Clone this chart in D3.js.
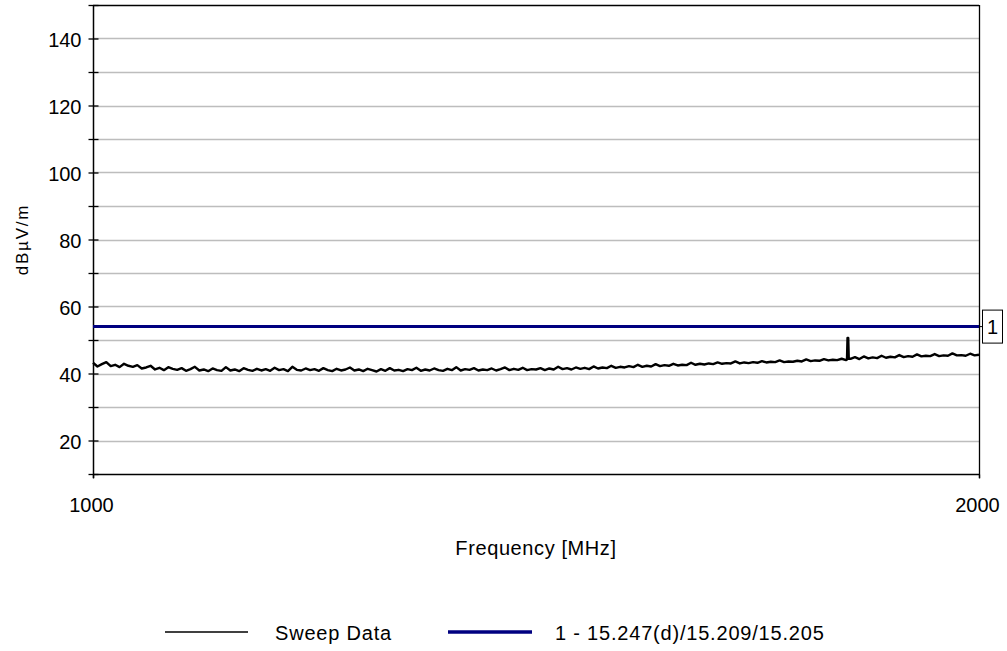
<!DOCTYPE html>
<html>
<head>
<meta charset="utf-8">
<script src="https://cdn.jsdelivr.net/npm/d3@7"></script>
<style>
  html, body { margin: 0; padding: 0; background: #fff; }
  svg text { font-family: "Liberation Sans", Arial, sans-serif; fill: #000; }
</style>
</head>
<body>
<svg id="chart" width="1007" height="651"></svg>
<script>
// ---------------- data ----------------
const freqStart = 1000, freqStep = 5;          // MHz, sweep grid
const sweepValues = [
  43.2,42.1,42.8,43.4,42.2,42.6,41.9,42.9,42.3,42.0,
  42.5,41.5,41.8,42.3,41.2,41.7,41.0,41.9,41.4,41.1,
  41.6,40.8,41.3,42.0,40.9,41.2,40.7,41.5,41.0,40.8,
  41.9,40.9,41.2,40.7,41.6,41.1,40.8,41.4,40.9,41.3,
  40.8,41.7,41.0,41.3,40.7,42.0,41.1,40.9,41.5,41.0,
  41.3,40.8,41.6,41.0,40.7,41.4,40.9,41.2,41.8,40.9,
  41.2,40.7,41.4,41.0,40.6,41.3,40.8,41.6,40.9,41.1,
  40.7,41.3,41.0,41.7,40.8,41.2,40.9,41.5,41.0,40.8,
  41.4,41.0,41.9,40.9,41.3,41.1,41.6,40.9,41.2,41.0,
  41.5,40.9,41.3,41.8,41.0,41.4,41.1,41.7,41.0,41.3,
  41.2,41.6,41.0,41.5,41.2,42.0,41.3,41.6,41.2,41.8,
  41.4,41.7,41.3,42.1,41.5,41.8,41.6,42.3,41.7,42.0,
  41.8,42.2,41.9,42.6,42.0,42.3,42.1,42.8,42.2,42.5,
  42.3,42.9,42.4,42.6,42.5,43.2,42.6,42.9,42.7,43.0,
  42.8,43.3,42.9,43.1,43.0,43.6,43.0,43.3,43.1,43.4,
  43.2,43.7,43.3,43.5,43.4,43.9,43.4,43.6,43.5,43.8,
  43.6,44.2,43.7,43.9,43.8,44.3,43.9,44.1,44.0,44.4,
  44.0,44.4,44.9,44.3,45.1,44.5,44.8,44.6,45.3,44.7,
  45.0,44.8,45.5,44.9,45.2,45.0,45.7,45.1,45.3,45.2,
  45.8,45.2,45.4,45.3,46.0,45.4,45.5,45.3,45.9,45.4,
  45.6
];
const spikeFreqs  = [1851, 1851.6, 1852.4, 1853];
const spikeValues = [44.2, 50.6, 50.6, 44.4];

const limitFreqs  = [1000, 2000];
const limitValues = [54, 54];
const limitLabel  = "1";

const yTicksMajor = [20, 40, 60, 80, 100, 120, 140];
const xTickLabels = [1000, 2000];
const seriesNames = ["Sweep Data", "1 - 15.247(d)/15.209/15.205"];

// ---------------- layout ----------------
const svg = d3.select("#chart");
const pL = 93, pR = 979, pT = 5, pB = 474;

const x = d3.scaleLinear().domain([1000, 2000]).range([pL, pR]);
const y = d3.scaleLinear().domain([10, 150]).range([pB, pT]);

let sweep = sweepValues.map((v, i) => ({ f: freqStart + i * freqStep, v }));
spikeFreqs.forEach((f, i) => sweep.push({ f, v: spikeValues[i] }));
sweep.sort((a, b) => a.f - b.f);

// gridlines
svg.append("g")
  .selectAll("line")
  .data(d3.range(20, 150, 10))
  .join("line")
  .attr("x1", pL).attr("x2", pR)
  .attr("y1", d => Math.round(y(d)) + 0.5).attr("y2", d => Math.round(y(d)) + 0.5)
  .attr("stroke", "#bdbdbd").attr("stroke-width", 1.3);

// frame
svg.append("line").attr("x1", pL).attr("x2", pR).attr("y1", pT + 0.5).attr("y2", pT + 0.5)
  .attr("stroke", "#000").attr("stroke-width", 1.3);
svg.append("line").attr("x1", pR + 0.5).attr("x2", pR + 0.5).attr("y1", pT).attr("y2", pB + 4)
  .attr("stroke", "#000").attr("stroke-width", 1.3);

// y axis (ticks crossing the axis line)
const yAxis = d3.axisLeft(y)
  .tickValues(d3.range(10, 151, 10))
  .tickSize(0)
  .tickFormat(d => yTicksMajor.includes(d) ? d : "");
const gy = svg.append("g").attr("transform", `translate(${pL + 0.5},0)`).call(yAxis);
gy.select(".domain").remove();
gy.selectAll(".tick text")
  .attr("x", -12).attr("dy", "0.42em")
  .style("font-size", "20px").style("font-family", "Liberation Sans, Arial, sans-serif");
gy.selectAll(".tick").append("line")
  .attr("x1", -5).attr("x2", 5).attr("stroke", "#000").attr("stroke-width", 1.3);
svg.append("line").attr("x1", pL + 0.5).attr("x2", pL + 0.5).attr("y1", pT).attr("y2", pB + 4)
  .attr("stroke", "#000").attr("stroke-width", 1.5);

// x axis
const xAxis = d3.axisBottom(x).tickValues(xTickLabels).tickFormat(d3.format("d"))
  .tickSize(4).tickPadding(19);
const gx = svg.append("g").attr("transform", `translate(0,${pB + 0.5})`).call(xAxis);
gx.select(".domain").attr("stroke", "#000").attr("stroke-width", 1.5).attr("d", `M${pL},0H${pR}`);
gx.selectAll(".tick line").attr("stroke", "#000").attr("stroke-width", 1.3);
gx.selectAll(".tick text")
  .attr("dx", "-2")
  .style("font-size", "20px").style("font-family", "Liberation Sans, Arial, sans-serif");

// limit line
const line = d3.line().x(d => x(d.f)).y(d => y(d.v));
const limit = limitFreqs.map((f, i) => ({ f, v: limitValues[i] }));
svg.append("path").datum(limit).attr("d", line)
  .attr("fill", "none").attr("stroke", "#000080").attr("stroke-width", 3);

// sweep data
svg.append("path").datum(sweep).attr("d", line)
  .attr("fill", "none").attr("stroke", "#000").attr("stroke-width", 2.4)
  .attr("stroke-linejoin", "round");

// limit marker box
const ly = y(limitValues[1]);
svg.append("line").attr("x1", pR).attr("x2", pR + 3).attr("y1", ly).attr("y2", ly)
  .attr("stroke", "#000").attr("stroke-width", 1);
svg.append("rect").attr("x", pR + 3.5).attr("y", ly - 16.5).attr("width", 20).attr("height", 33)
  .attr("fill", "#fff").attr("stroke", "#000").attr("stroke-width", 1);
svg.append("text").attr("x", pR + 13.5).attr("y", ly + 7).attr("text-anchor", "middle")
  .style("font-size", "20px").text(limitLabel);

// axis titles
svg.append("text")
  .attr("transform", `translate(28,${(pT + pB) / 2}) rotate(-90)`)
  .attr("text-anchor", "middle")
  .style("font-size", "17px").style("letter-spacing", "1.8px")
  .text("dBµV/m");
svg.append("text")
  .attr("x", (pL + pR) / 2).attr("y", 555).attr("text-anchor", "middle")
  .style("font-size", "20px").style("letter-spacing", "0.6px")
  .text("Frequency [MHz]");

// legend
const legend = svg.append("g");
const legItems = [
  { name: seriesNames[0], x1: 165, x2: 248, tx: 275, color: "#000", w: 1.5 },
  { name: seriesNames[1], x1: 448, x2: 532, tx: 555, color: "#000080", w: 3.5 }
];
legItems.forEach(it => {
  legend.append("line").attr("x1", it.x1).attr("x2", it.x2).attr("y1", 632).attr("y2", 632)
    .attr("stroke", it.color).attr("stroke-width", it.w);
  legend.append("text").attr("x", it.tx).attr("y", 640)
    .style("font-size", "20px").style("letter-spacing", "0.8px").text(it.name);
});
</script>
</body>
</html>
